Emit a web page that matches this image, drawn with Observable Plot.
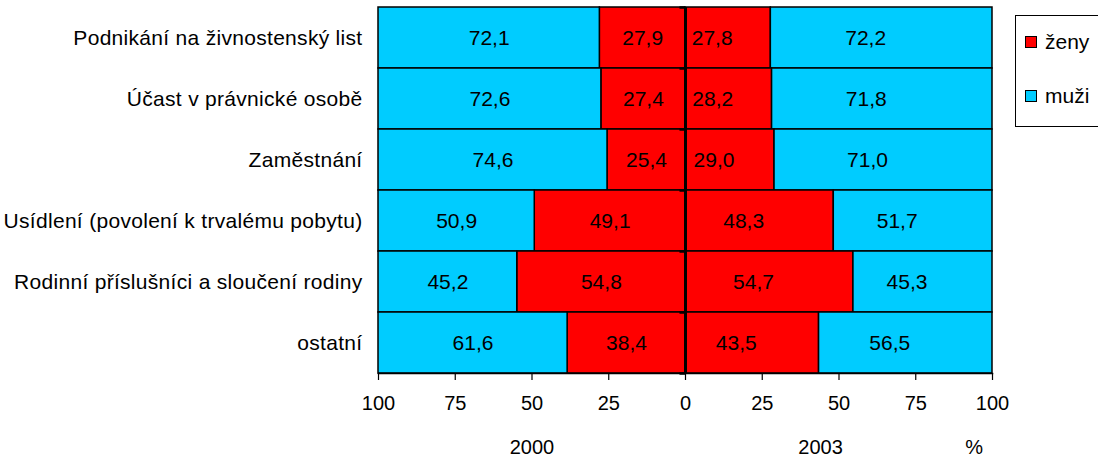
<!DOCTYPE html>
<html><head><meta charset="utf-8">
<script src="https://cdn.jsdelivr.net/npm/d3@7"></script>
<script src="https://cdn.jsdelivr.net/npm/@observablehq/plot@0.6"></script>
<style>
body{margin:0;background:#fff;font-family:"Liberation Sans",Arial,sans-serif;}
#wrap{position:relative;width:1098px;height:459px;overflow:hidden;}
#legend{position:absolute;left:1015px;top:15px;width:100px;height:112px;border:1px solid #000;box-sizing:border-box;font-size:21px;}
.li{position:absolute;left:9px;display:flex;align-items:center;}
.sw{width:10px;height:10px;border:1.5px solid #000;margin-right:8px;}
g[aria-label="y-axis tick label"] text{letter-spacing:0.3px;}
</style></head><body>
<div id="wrap"><div id="legend"></div></div>
<script>
const categories = ["Podnikání na živnostenský list","Účast v právnické osobě","Zaměstnání","Usídlení (povolení k trvalému pobytu)","Rodinní příslušníci a sloučení rodiny","ostatní"];
const zeny2000 = [27.9,27.4,25.4,49.1,54.8,38.4];
const muzi2000 = [72.1,72.6,74.6,50.9,45.2,61.6];
const zeny2003 = [27.8,28.2,29.0,48.3,54.7,43.5];
const muzi2003 = [72.2,71.8,71.0,51.7,45.3,56.5];
const xTicks = [-100,-75,-50,-25,0,25,50,75,100];
const seriesNames = ["ženy","muži"];
const colors = ["#FF0000","#00CCFF"];
const fmt = v => v.toFixed(1).replace(".", ",");

const rows = [];
categories.forEach((c,i)=>{
  rows.push({cat:c, sex:"ženy", side:"L", x1:-zeny2000[i], x2:0, v:zeny2000[i]});
  rows.push({cat:c, sex:"muži", side:"L", x1:-100, x2:-zeny2000[i], v:muzi2000[i]});
  rows.push({cat:c, sex:"ženy", side:"R", x1:0, x2:zeny2003[i], v:zeny2003[i]});
  rows.push({cat:c, sex:"muži", side:"R", x1:zeny2003[i], x2:100, v:muzi2003[i]});
});
const L = rows.filter(d=>d.side==="L"), R = rows.filter(d=>d.side==="R");
const FS = 21, TFS = 20;
const bandH = (459-7-86)/categories.length;

const chart = Plot.plot({
  width:1098, height:459,
  marginLeft:378, marginRight:106, marginTop:7, marginBottom:86,
  style:{fontFamily:'"Liberation Sans",Arial,sans-serif', fontSize:"20px", color:"#000", background:"#fff"},
  x:{domain:[-100,100]},
  y:{domain:categories, padding:0},
  color:{domain:seriesNames, range:colors},
  marks:[
    Plot.barX(rows,{y:"cat", x1:"x1", x2:"x2", fill:"sex", stroke:"#000", strokeWidth:1.5}),
    Plot.text(L,{y:"cat", x:d=>(d.x1+d.x2)/2, text:d=>fmt(d.v), fontSize:FS, fill:"#000"}),
    Plot.text(R,{y:"cat", x:d=>(d.x1+d.x2)/2, text:d=>fmt(d.v), fontSize:FS, fill:"#000", dx:-16}),
    Plot.ruleX([0],{stroke:"#000", strokeWidth:3}),
    Plot.ruleY(categories,{y:d=>d, x1:-1.8, x2:0, dy:-bandH/2, stroke:"#000", strokeWidth:2.5}),
    Plot.ruleY(categories.slice(-1),{y:d=>d, x1:-1.8, x2:0, dy:bandH/2, stroke:"#000", strokeWidth:2.5}),
    Plot.frame({anchor:"bottom", stroke:"#000", strokeWidth:1.5}),
    Plot.axisX({ticks:xTicks, tickFormat:d=>String(Math.abs(d)), tickSize:7, tickPadding:15, fontSize:TFS, label:null, strokeWidth:1.2}),
    Plot.axisY({tickSize:0, tickPadding:16, fontSize:FS, label:null}),
    Plot.text(["2000"],{x:-50, frameAnchor:"bottom", dy:80, fontSize:TFS}),
    Plot.text(["2003"],{x:44, frameAnchor:"bottom", dy:80, fontSize:TFS}),
    Plot.text(["%"],{x:94, frameAnchor:"bottom", dy:80, fontSize:TFS})
  ]
});
document.getElementById("wrap").prepend(chart);
const lg = document.getElementById("legend");
seriesNames.forEach((n,i)=>{
  const d=document.createElement("div"); d.className="li"; d.style.top=(i===0?14:68)+"px";
  d.innerHTML=`<span class="sw" style="background:${colors[i]}"></span><span>${n}</span>`;
  lg.appendChild(d);
});
</script></body></html>
